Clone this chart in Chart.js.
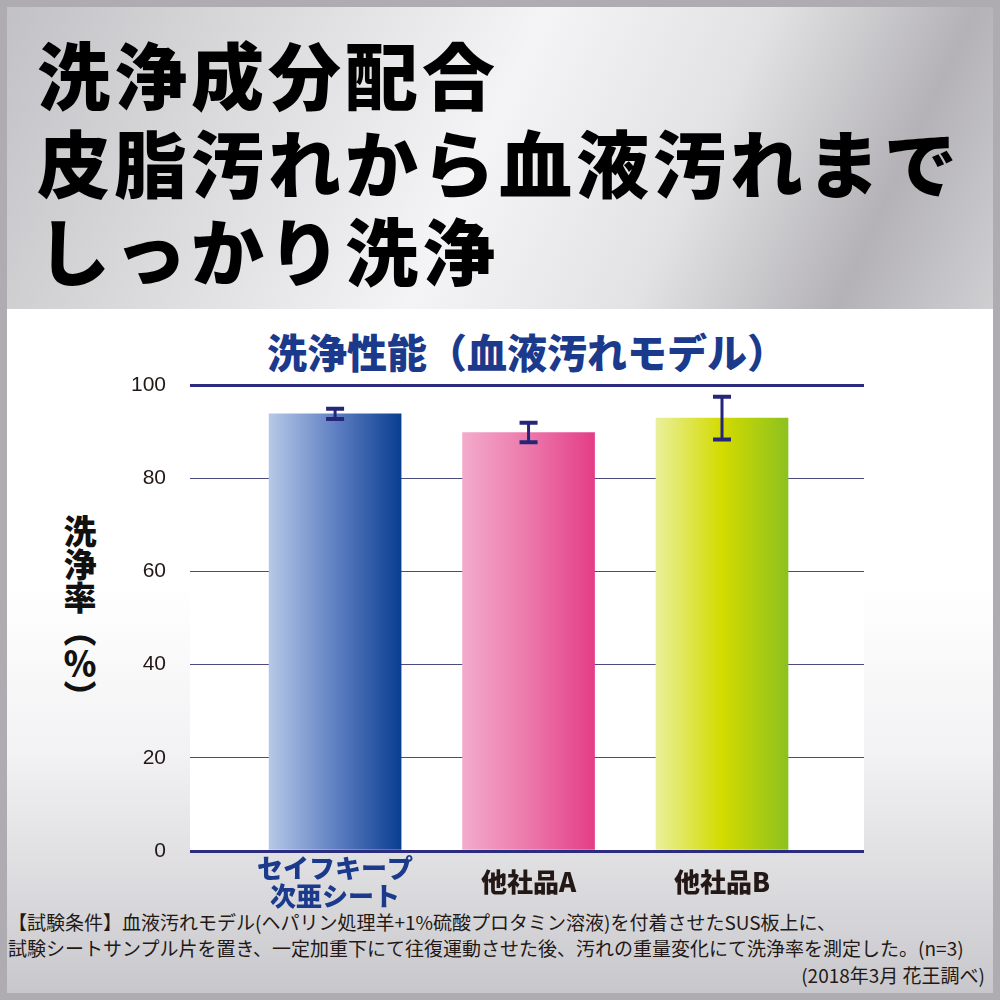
<!DOCTYPE html>
<html lang="ja">
<head>
<meta charset="utf-8">
<script src="https://cdn.jsdelivr.net/npm/chart.js@4.4.1/dist/chart.umd.min.js"></script>
<style>
  html, body { margin: 0; padding: 0; }
  body {
    width: 1000px; height: 1000px; position: relative; overflow: hidden;
    background: #aeacb0;
    font-family: "Noto Sans CJK JP", sans-serif;
  }
  .top-panel {
    position: absolute; left: 7px; top: 7px; width: 986px; height: 302px;
    background: linear-gradient(115deg, #c2c2c6 0%, #dcdcde 25%, #f4f4f6 48%, #e2e2e4 68%, #b4b2b6 86%, #cfcfd2 100%);
  }
  .main-panel {
    position: absolute; left: 7px; top: 309px; width: 986px; height: 684px;
    background: linear-gradient(180deg, #ffffff 0%, #ffffff 40%, #f2f2f4 65%, #dedee1 82%, #c8c8cc 100%);
  }
  .headline {
    position: absolute; left: 37px; font-size: 73px; font-weight: 900;
    line-height: 1; letter-spacing: 4px; color: #000; white-space: nowrap;
  }
  .chart-title {
    position: absolute; left: 0; width: 1054px; top: 331px; text-align: center;
    font-size: 40px; font-weight: 900; line-height: 1; color: #1b3a8c; white-space: nowrap;
  }
  .y-title {
    position: absolute; left: 63px; top: 515px; font-size: 33px; font-weight: 900;
    line-height: 1; writing-mode: vertical-rl; color: #111;
  }
  .note {
    position: absolute; left: 8px; font-size: 19px; line-height: 1; color: #231815; white-space: nowrap;
  }
  #chart { position: absolute; left: 0; top: 0; z-index: 1; }
</style>
</head>
<body>
<div class="top-panel"></div>
<div class="main-panel"></div>
<div class="headline" style="top:36px">洗浄成分配合</div>
<div class="headline" style="top:124px">皮脂汚れから血液汚れまで</div>
<div class="headline" style="top:212px">しっかり洗浄</div>
<div class="chart-title">洗浄性能（血液汚れモデル）</div>
<div class="y-title">洗浄率（％）</div>
<div class="note" style="top:912px">【試験条件】血液汚れモデル(ヘパリン処理羊+1%硫酸プロタミン溶液)を付着させたSUS板上に、</div>
<div class="note" style="top:938px">試験シートサンプル片を置き、一定加重下にて往復運動させた後、汚れの重量変化にて洗浄率を測定した。(n=3)</div>
<div class="note" style="top:965px; left:auto; right:15px">(2018年3月 花王調べ)</div>
<canvas id="chart" width="1000" height="1000"></canvas>
<script>
const categories = [['セイフキープ', '次亜シート'], '他社品A', '他社品B'];
const values = [93.8, 89.8, 92.9];
const errors = [1.1, 2.1, 4.6];
const yTicks = [0, 20, 40, 60, 80, 100];

const barStops = [
    ['#b6c8e8', '#5f80c2', '#0a3e91'],
    ['#f3abcb', '#ec78ab', '#e43d87'],
    ['#eaf09a', '#d3db00', '#8dc11f']
];
const fallback = ['#4a6cb4', '#ea6ba1', '#c8d400'];
const BAR_W = 132;

function barFill(ctx) {
    const chart = ctx.chart;
    const xs = chart.scales.x;
    if (!chart.chartArea || !xs) return fallback[ctx.dataIndex];
    const cx = xs.getPixelForValue(ctx.dataIndex);
    const g = chart.ctx.createLinearGradient(cx - BAR_W / 2, 0, cx + BAR_W / 2, 0);
    const s = barStops[ctx.dataIndex];
    g.addColorStop(0, s[0]);
    g.addColorStop(0.5, s[1]);
    g.addColorStop(1, s[2]);
    return g;
}

// white plot background
const plotBg = {
    id: 'plotBg',
    beforeDraw(chart) {
        const a = chart.chartArea;
        chart.ctx.save();
        chart.ctx.fillStyle = '#ffffff';
        chart.ctx.fillRect(a.left, a.top, a.right - a.left, a.bottom - a.top);
        chart.ctx.restore();
    }
};

// error bars drawn from values/errors through the scales
const errorBars = {
    id: 'errorBars',
    afterDatasetsDraw(chart) {
        const ctx = chart.ctx;
        const xs = chart.scales.x, ys = chart.scales.y;
        ctx.save();
        ctx.strokeStyle = '#25267a';
        values.forEach((v, i) => {
            const x = xs.getPixelForValue(i);
            const top = ys.getPixelForValue(v + errors[i]);
            const bot = ys.getPixelForValue(v - errors[i]);
            ctx.lineWidth = 3;
            ctx.beginPath();
            ctx.moveTo(x, top);
            ctx.lineTo(x, bot);
            ctx.stroke();
            ctx.lineWidth = 4;
            ctx.beginPath();
            ctx.moveTo(x - 9, top);
            ctx.lineTo(x + 9, top);
            ctx.moveTo(x - 9, bot);
            ctx.lineTo(x + 9, bot);
            ctx.stroke();
        });
        ctx.restore();
    }
};

new Chart(document.getElementById('chart'), {
    type: 'bar',
    data: {
        datasets: [{
            data: values.map((v, i) => ({ x: i, y: v })),
            backgroundColor: barFill,
            borderWidth: 0,
            barThickness: BAR_W
        }]
    },
    options: {
        responsive: false,
        animation: false,
        layout: { padding: { left: 110, right: 136, top: 385, bottom: 69 } },
        plugins: {
            legend: { display: false },
            tooltip: { enabled: false }
        },
        scales: {
            x: {
                type: 'linear',
                offset: false,
                min: -0.75,
                max: 2.734,
                afterBuildTicks: s => { s.ticks = categories.map((c, i) => ({ value: i })); },
                afterFit: s => { s.height = 80; },
                grid: { display: false },
                border: { display: false },
                ticks: {
                    autoSkip: false,
                    maxRotation: 0,
                    padding: 9,
                    crossAlign: 'center',
                    callback: v => categories[v],
                    color: c => c.index === 0 ? '#1b3a8c' : '#231815',
                    font: { family: '"Noto Sans CJK JP"', size: 26, weight: '900', lineHeight: 1.08 }
                }
            },
            y: {
                min: 0,
                max: 100,
                afterBuildTicks: s => { s.ticks = yTicks.map(v => ({ value: v })); },
                afterFit: s => { s.width = 80; },
                border: { display: false },
                grid: {
                    drawTicks: false,
                    color: c => (c.tick.value === 0 || c.tick.value === 100) ? '#2b2b80' : '#4b4b80',
                    lineWidth: c => (c.tick.value === 0 || c.tick.value === 100) ? 3 : 1
                },
                ticks: {
                    padding: 24,
                    color: '#231815',
                    font: { family: '"Liberation Sans", Arial, sans-serif', size: 21 }
                }
            }
        }
    },
    plugins: [plotBg, errorBars]
});
</script>
</body>
</html>
